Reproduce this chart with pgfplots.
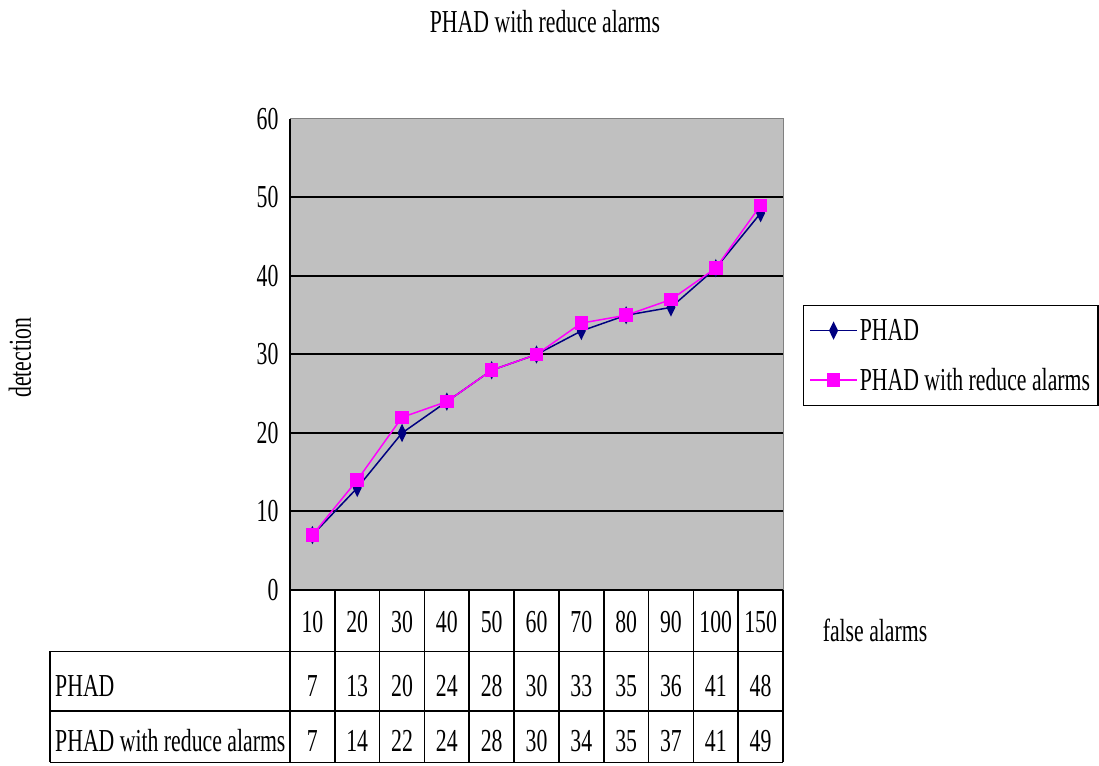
\documentclass[border=0pt]{standalone}
\usepackage{fontspec}
\setmainfont{Liberation Serif}[FakeStretch=0.68]
\usepackage{pgfplots}
\usepackage{pgfplotstable}
\pgfplotsset{compat=1.18}
\definecolor{plotgrey}{RGB}{192,192,192}
\definecolor{phadblue}{RGB}{0,0,128}
\definecolor{phadmag}{RGB}{255,0,255}
\newcommand\myfont{\fontsize{32}{36}\selectfont}

\pgfplotstableread{
x fa phad red
0 10 7 7
1 20 13 14
2 30 20 22
3 40 24 24
4 50 28 28
5 60 30 30
6 70 33 34
7 80 35 35
8 90 36 37
9 100 41 41
10 150 48 49
}\data

\begin{document}
\begin{tikzpicture}
\path[use as bounding box] (0pt,0pt) rectangle (1099pt,765pt);
\begin{axis}[
  at={(290pt,175pt)}, anchor=south west,
  scale only axis, width=493pt, height=471pt,
  xmin=-0.5, xmax=10.5, ymin=0, ymax=60,
  clip=false,
  xtick=\empty,
  ytick={0,10,...,60},
  ytick pos=left, tick align=inside,
  major tick length=6pt,
  tick style={black, line width=1pt},
  extra y ticks={10,20,30,40,50},
  extra y tick labels={},
  extra y tick style={grid=major, major grid style={black, line width=2pt}},
  /pgf/number format/assume math mode=true,
  yticklabel style={font=\myfont, xshift=-8pt},
  axis background/.style={fill=plotgrey},
  axis line style={draw=gray, line width=1pt},
  legend style={at={(1.04,0.498)}, anchor=west, draw=black, line width=1.2pt,
    font=\myfont, cells={anchor=west}, row sep=22pt, inner xsep=6pt, inner ysep=12pt},
  legend image code/.code={\draw[mark repeat=2,mark phase=2,#1] plot coordinates {(0pt,0pt) (23.5pt,0pt) (47pt,0pt)};},
  legend image post style={xshift=-2pt},
]
\addplot[phadblue, line width=1.5pt, mark=diamond*, mark size=7.5pt, mark options={solid, xscale=0.65}]
  table[x=x, y=phad] {\data};
\addlegendentry{PHAD}
\addplot[phadmag, line width=1.5pt, mark=square*, mark size=6pt, mark options={solid}]
  table[x=x, y=red] {\data};
\addlegendentry{PHAD with reduce alarms}

% data table text
\addplot[forget plot, draw=none, mark=none, nodes near coords, point meta=explicit symbolic,
  every node near coord/.append style={anchor=center, font=\myfont, text=black}]
  table[x=x, y expr=-4.04, meta=fa] {\data};
\addplot[forget plot, draw=none, mark=none, nodes near coords, point meta=explicit symbolic,
  every node near coord/.append style={anchor=center, font=\myfont, text=black}]
  table[x=x, y expr=-12.19, meta=phad] {\data};
\addplot[forget plot, draw=none, mark=none, nodes near coords, point meta=explicit symbolic,
  every node near coord/.append style={anchor=center, font=\myfont, text=black}]
  table[x=x, y expr=-19.2, meta=red] {\data};

% left axis line and table grid
\draw[black, line width=2pt] (axis cs:-0.5,0) -- (axis cs:-0.5,60);
\draw[black, line width=1.6pt] (axis cs:-0.5,0) -- (axis cs:10.5,0);
\draw[black, line width=1.6pt] (axis cs:-5.855,-7.82) -- (axis cs:10.5,-7.82);
\draw[black, line width=1.6pt] (axis cs:-5.855,-15.38) -- (axis cs:10.5,-15.38);
\draw[black, line width=1.6pt] (axis cs:-5.855,-21.96) -- (axis cs:10.5,-21.96);
\draw[black, line width=1.6pt] (axis cs:-5.855,-7.82) -- (axis cs:-5.855,-21.96);
\pgfplotsinvokeforeach{-0.5,0.5,1.5,2.5,3.5,4.5,5.5,6.5,7.5,8.5,9.5,10.5}{
  \draw[black, line width=1.6pt] (axis cs:#1,0) -- (axis cs:#1,-21.96);
}
\node[anchor=west, font=\myfont, inner sep=0pt, xshift=5pt] at (axis cs:-5.855,-12.19) {PHAD};
\node[anchor=west, font=\myfont, inner sep=0pt, xshift=5pt] at (axis cs:-5.855,-19.2) {PHAD with reduce alarms};
\end{axis}
\node[font=\myfont] at (545pt,743pt) {PHAD with reduce alarms};
\node[font=\myfont, rotate=90] at (20pt,407pt) {detection};
\node[font=\myfont] at (875pt,135pt) {false alarms};
\end{tikzpicture}
\end{document}
